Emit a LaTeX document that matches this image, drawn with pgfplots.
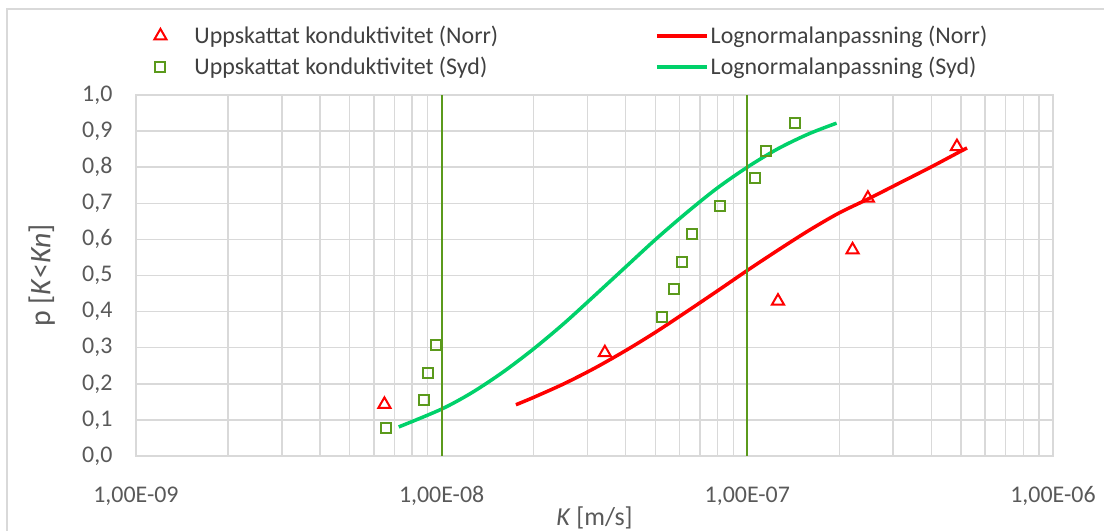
\documentclass[border=0pt]{standalone}
\usepackage{fontspec}
\setmainfont{Carlito}
\usepackage{pgfplots}
\pgfplotsset{compat=1.18}

\definecolor{gridgray}{HTML}{D9D9D9}
\definecolor{textgray}{HTML}{595959}
\definecolor{legendgray}{HTML}{404040}
\definecolor{norrred}{HTML}{FF0000}
\definecolor{sydolive}{HTML}{5B9A1C}
\definecolor{sydgreen}{HTML}{00D16A}

% legend samples: long line for the fitted curves, single mark for the estimates
\pgfplotsset{
  lineleg/.style={legend image code/.code={\draw[##1] (0bp,0bp) -- (50bp,0bp);}},
  markleg/.style={legend image code/.code={\path[draw=none] (0bp,0bp) -- (40bp,0bp);
      \path[##1, draw=none] plot[only marks] coordinates {(8bp,0bp)};}},
}

\begin{document}
\begin{tikzpicture}[x=1bp,y=1bp]
\useasboundingbox (0,0) rectangle (1104,531);
% chart area frame
\draw[gridgray, line width=2bp] (7,-10) |- (1120,522);
\begin{axis}[
  at={(136bp,75bp)}, anchor=south west,
  scale only axis, width=917bp, height=361bp,
  xmode=log, xmin=1e-9, xmax=1e-6, ymin=0, ymax=1,
  xtick={1e-9,1e-8,1e-7,1e-6},
  xticklabels={{1,00E-09},{1,00E-08},{1,00E-07},{1,00E-06}},
  ytick={0,0.1,0.2,0.3,0.4,0.5,0.6,0.7,0.8,0.9,1},
  yticklabel style={xshift=-20bp,
    /pgf/number format/fixed, /pgf/number format/fixed zerofill,
    /pgf/number format/precision=1, /pgf/number format/use comma,
    /pgf/number format/assume math mode=true},
  tick label style={font=\fontsize{24}{28}\selectfont, text=textgray},
  xticklabel style={yshift=-27bp},
  grid=both,
  major grid style={gridgray, line width=1.5bp},
  minor grid style={gridgray, line width=1.5bp},
  axis line style={gridgray, line width=1.5bp},
  major tick length=0pt, minor tick length=0pt,
  xlabel={\textit{K} [m/s]},
  ylabel={p [\textit{K}<\textit{Kn}]},
  every axis x label/.style={at={(axis description cs:0.5,-0.1717)}, anchor=center,
    font=\fontsize{26}{30}\selectfont, text=textgray},
  every axis y label/.style={at={(axis description cs:-0.1025,0.5)}, rotate=90, anchor=center,
    font=\fontsize{30}{34}\selectfont, text=textgray},
  legend columns=2,
  legend cell align=left,
  legend style={at={(0.0145,1.04)}, anchor=south west, draw=none, fill=none,
    font=\fontsize{24}{28}\selectfont, text=legendgray,
    /tikz/every even column/.append style={column sep=155bp},
    row sep=8bp},
]
% estimated conductivities, Norr
\addplot[only marks, mark=triangle, mark size=7bp, norrred, line width=2bp, mark options={fill=white}, markleg]
  coordinates {(6.5e-9,0.143) (3.42e-8,0.286) (1.26e-7,0.429) (2.21e-7,0.571) (2.48e-7,0.714) (4.85e-7,0.857)};
\addlegendentry{Uppskattat konduktivitet (Norr)}
% lognormal fit, Norr
\addplot[norrred, line width=3.5bp, smooth, lineleg]
  coordinates {(1.75e-8,0.142) (1.995e-8,0.162) (2.512e-8,0.200) (3.162e-8,0.243) (3.981e-8,0.291)
    (5.012e-8,0.343) (6.310e-8,0.399) (7.943e-8,0.456) (1e-7,0.514) (1.259e-7,0.570)
    (1.585e-7,0.624) (1.995e-7,0.673) (2.512e-7,0.714) (3.162e-7,0.757) (3.981e-7,0.800)
    (5.012e-7,0.845) (5.236e-7,0.853)};
\addlegendentry{Lognormalanpassning (Norr)}
% estimated conductivities, Syd
\addplot[only marks, mark=square, mark size=5bp, sydolive, line width=2bp, mark options={fill=white}, markleg]
  coordinates {(6.58e-9,0.0769) (8.75e-9,0.1538) (9.0e-9,0.2308) (9.57e-9,0.3077)
    (5.26e-8,0.3846) (5.75e-8,0.4615) (6.1e-8,0.5385) (6.59e-8,0.6154)
    (8.13e-8,0.6923) (1.06e-7,0.7692) (1.15e-7,0.8462) (1.43e-7,0.9231)};
\addlegendentry{Uppskattat konduktivitet (Syd)}
% lognormal fit, Syd
\addplot[sydgreen, line width=3.5bp, smooth, lineleg]
  coordinates {(7.24e-9,0.0805) (1e-8,0.130) (1.259e-8,0.176) (1.585e-8,0.232) (1.995e-8,0.296)
    (2.512e-8,0.367) (3.162e-8,0.444) (3.981e-8,0.522) (5.012e-8,0.600) (6.310e-8,0.673)
    (7.943e-8,0.741) (1e-7,0.800) (1.259e-7,0.851) (1.585e-7,0.892) (1.959e-7,0.922)};
\addlegendentry{Lognormalanpassning (Syd)}
% reference lines
\addplot[sydolive, line width=2bp, forget plot] coordinates {(1e-8,0) (1e-8,1)};
\addplot[sydolive, line width=2bp, forget plot] coordinates {(1e-7,0) (1e-7,1)};
\end{axis}
\end{tikzpicture}
\end{document}
